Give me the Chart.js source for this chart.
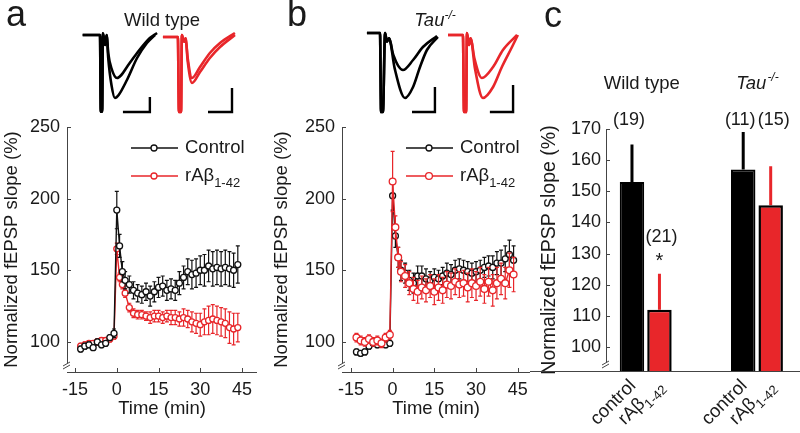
<!DOCTYPE html>
<html>
<head>
<meta charset="utf-8">
<script src="https://cdn.jsdelivr.net/npm/chart.js@4.4.1/dist/chart.umd.min.js"></script>
<style>
  html, body { margin: 0; background: #fff; }
  #fig { position: relative; width: 800px; height: 433px; overflow: hidden;
         font-family: 'Liberation Sans', Arial, sans-serif; color: #1a1a1a; }
  #fig canvas { position: absolute; }
  .letter { position: absolute; font-size: 36px; line-height: 36px; }
  .trace-title { position: absolute; width: 200px; text-align: center; font-size: 18.5px; line-height: 20px; }
  .trace-title sup { font-size: 12px; vertical-align: 7px; line-height: 0; }
</style>
</head>
<body>
<div id="fig">
  <canvas id="ltpA" width="270" height="433" style="left:0;top:0"></canvas>
  <canvas id="ltpB" width="270" height="433" style="left:270px;top:0"></canvas>
  <canvas id="bars" width="270" height="433" style="left:530px;top:0"></canvas>
  <canvas id="trWtCtrl" width="80" height="92" style="left:80px;top:25px"></canvas>
  <canvas id="trWtAbeta" width="80" height="92" style="left:160px;top:25px"></canvas>
  <canvas id="trTauCtrl" width="80" height="92" style="left:364px;top:25px"></canvas>
  <canvas id="trTauAbeta" width="80" height="92" style="left:444px;top:25px"></canvas>
  <div class="letter" style="left:6px;top:-4px">a</div>
  <div class="letter" style="left:287px;top:-4px">b</div>
  <div class="letter" style="left:544px;top:-3px">c</div>
  <div class="trace-title" style="left:62px;top:10px">Wild type</div>
  <div class="trace-title" style="left:335px;top:10px"><i>Tau</i><sup><i>-/-</i></sup></div>
</div>
<script>
// fEPSP slope time courses (% of baseline), minutes relative to tetanus
const minutes = [-13, -11.5, -10, -8.5, -7, -5.5, -4, -2.5, -1, 0, 1, 2, 3, 4.5, 6, 7.5, 9, 10.5, 12, 13.5,
  15, 16.5, 18, 19.5, 21, 22.5, 24, 25.5, 27, 28.5, 30, 31.5, 33, 34.5, 36, 37.5, 39, 40.5, 42, 43.5];

const wtControl = [95, 97, 98, 96, 100, 98, 99, 103, 106, 192, 167, 149, 143, 140, 136, 134, 133, 135, 132, 135,
  138, 139, 136, 137, 136, 141, 145, 149, 147, 148, 150, 150, 153, 151, 152, 151, 152, 151, 150, 154];
const wtControlSem = [2, 2, 2, 2, 2, 2, 2, 2, 3, 13, 8, 7, 6, 6, 6, 6, 6, 6, 7, 7,
  7, 7, 7, 7, 7, 8, 8, 9, 10, 10, 10, 11, 11, 12, 12, 12, 12, 12, 12, 13];
const wtAbeta = [97, 98, 99, 99, 100, 101, 101, 102, 104, 165, 145, 140, 134, 124, 120, 119, 119, 118, 117, 118,
  118, 117, 118, 117, 117, 116, 117, 116, 114, 113, 112, 114, 115, 116, 115, 114, 113, 110, 109, 110];
const wtAbetaSem = [2, 2, 2, 2, 2, 2, 2, 2, 2, 4, 3, 3, 3, 3, 3, 3, 3, 3, 4, 4,
  4, 4, 4, 5, 5, 5, 6, 6, 7, 7, 8, 9, 10, 10, 10, 10, 10, 11, 11, 10];

const tauControl = [93, 92, 93, 97, 99, 98, 99, 98, 99, 202, 174, 159, 150, 148, 143, 141, 146, 146, 144, 143,
  145, 144, 146, 148, 147, 150, 151, 150, 149, 148, 149, 150, 152, 153, 152, 155, 155, 158, 161, 157];
const tauControlSem = [2, 2, 2, 2, 2, 2, 2, 2, 2, 10, 8, 7, 7, 7, 7, 7, 7, 7, 7, 6,
  6, 6, 6, 7, 7, 7, 7, 7, 7, 7, 7, 7, 7, 7, 8, 8, 9, 9, 10, 10];
const tauAbeta = [103, 101, 100, 102, 100, 101, 99, 103, 105, 212, 180, 159, 149, 146, 141, 137, 135, 138, 136, 139,
  135, 138, 136, 140, 139, 142, 140, 141, 138, 141, 139, 142, 137, 142, 136, 141, 144, 141, 150, 147];
const tauAbetaSem = [3, 3, 3, 3, 3, 3, 3, 3, 3, 21, 8, 7, 7, 8, 8, 8, 8, 8, 8, 8,
  9, 9, 9, 9, 9, 9, 9, 9, 10, 10, 10, 10, 10, 10, 11, 11, 11, 11, 12, 12];

const seriesNames = ['Control', 'rAβ'];
const seriesSubs = ['', '1-42'];
const timeTicks = [-15, 0, 15, 30, 45];
const slopeTicks = [100, 150, 200, 250];

// panel c: mean fEPSP slope 40-45 min after tetanus
const genotypes = ['Wild type', 'Tau'];
const genotypeSup = ['', '-/-'];
const conditions = ['control', 'rAβ'];
const conditionSubs = ['', '1-42'];
const controlMean = [153, 157];
const controlSem = [12, 12];
const controlN = [19, 11];
const abetaMean = [112, 145.5];
const abetaSem = [11.5, 12.5];
const abetaN = [21, 15];
const abetaSig = ['*', ''];
const barTicks = [100, 110, 120, 130, 140, 150, 160, 170];

// example sweeps (ms, mV): baseline and post-tetanus, plus 10 ms scale bar
const wtCtrlSweeps = [
  [[1, 0], [7.5, 0], [7.8, -2.3], [8.3, -2.3], [8.6, 0.05], [9.4, -0.3], [10, 0], [10.6, -0.55], [11.8, -1.0], [13.9, -1.29], [15.5, -1.2], [17.6, -0.96], [21.4, -0.54], [26.2, -0.09], [28.9, 0.06]],
  [[1, 0], [7.5, 0], [7.8, -2.3], [8.3, -2.3], [8.6, 0.05], [9.4, -0.3], [10, 0], [10.6, -0.7], [11.8, -1.5], [13.1, -1.89], [14.5, -1.8], [17.6, -1.35], [21.4, -0.69], [25.1, -0.24], [28.1, 0]]
];
const wtCtrlBar = [[16.1, -2.31], [26.2, -2.31], [26.2, -1.86]];
const wtAbetaSweeps = [
  [[1.1, -0.06], [6.7, -0.06], [7.1, -2.31], [7.9, -2.31], [8.2, 0], [9, -0.2], [9.6, -0.1], [10.4, -0.7], [12, -1.29], [15, -0.96], [18.7, -0.54], [22.5, -0.24], [28.1, 0.06]],
  [[1.1, -0.06], [6.7, -0.06], [7.1, -2.31], [7.9, -2.31], [8.2, 0], [9, -0.2], [9.6, -0.1], [10.4, -0.8], [12, -1.44], [15, -1.11], [18.7, -0.69], [22.5, -0.36], [28.1, 0]]
];
const wtAbetaBar = [[18, -2.31], [27, -2.31], [27, -1.59]];
const tauCtrlSweeps = [
  [[1.1, 0.06], [6, 0.06], [6.4, -2.31], [7.1, -2.31], [7.9, 0.06], [8.6, -0.2], [9.4, -0.1], [11, -0.6], [14.6, -1.05], [18.4, -0.75], [22.1, -0.36], [27.4, -0.03]],
  [[1.1, 0.06], [6, 0.06], [6.4, -2.31], [7.1, -2.31], [7.9, 0.06], [8.6, -0.2], [9.4, -0.1], [11.5, -1.0], [15.4, -1.89], [18.4, -1.56], [21, -0.96], [23.6, -0.45], [27.7, -0.06]]
];
const tauCtrlBar = [[18, -2.31], [26.6, -2.31], [26.6, -1.56]];
const tauAbetaSweeps = [
  [[1.5, 0], [7.1, 0], [7.5, -2.31], [8.3, -2.31], [8.6, 0.06], [9.4, -0.3], [10, -0.1], [11.4, -0.7], [14.2, -1.29], [18.4, -0.96], [22.1, -0.45], [27.4, 0]],
  [[1.5, 0], [7.1, 0], [7.5, -2.31], [8.3, -2.31], [8.6, 0.06], [9.4, -0.3], [10, -0.1], [11.6, -1.0], [14.6, -1.89], [18.4, -1.56], [21.7, -0.96], [25.5, -0.36], [27.7, 0]]
];
const tauAbetaBar = [[17.2, -2.31], [25.9, -2.31], [25.9, -1.5]];

const RED = '#e8262a';
const INK = '#111';
const FONT = "'Liberation Sans', Arial, sans-serif";

Chart.defaults.font.family = FONT;
Chart.defaults.color = '#1a1a1a';
Chart.defaults.animation = false;
Chart.defaults.plugins.legend.display = false;
Chart.defaults.plugins.tooltip.enabled = false;

// text with a lowered subscript part, e.g. rAβ1-42
function drawSubText(ctx, text, sub, x, y, size, style) {
  const pre = style ? style + ' ' : '';
  ctx.font = `${pre}${size}px ${FONT}`;
  ctx.fillText(text, x, y);
  if (!sub) return;
  const w = ctx.measureText(text).width;
  ctx.font = `${pre}${Math.round(size * 0.7)}px ${FONT}`;
  ctx.fillText(sub, x + w, y + size * 0.38);
}

function subTextWidth(ctx, text, sub, size) {
  ctx.font = `${size}px ${FONT}`;
  let w = ctx.measureText(text).width;
  if (sub) {
    ctx.font = `${Math.round(size * 0.7)}px ${FONT}`;
    w += ctx.measureText(sub).width;
  }
  return w;
}

// error bars drawn just under their own dataset
const errorBars = {
  id: 'errorBars',
  beforeDatasetDraw(chart, args) {
    const ds = chart.data.datasets[args.index];
    if (!ds.errors) return;
    const {ctx} = chart;
    const y = chart.scales.y;
    ctx.save();
    ctx.strokeStyle = ds.errorColor || ds.borderColor;
    ctx.lineWidth = ds.errorWidth || 1.2;
    ctx.beginPath();
    args.meta.data.forEach((el, i) => {
      const v = ds.data[i].y, e = ds.errors[i];
      const top = y.getPixelForValue(v + e);
      if (ds.errorUpOnly) {
        ctx.moveTo(el.x, y.getPixelForValue(v));
        ctx.lineTo(el.x, top);
        return;
      }
      const bot = y.getPixelForValue(v - e);
      ctx.moveTo(el.x, top); ctx.lineTo(el.x, bot);
      ctx.moveTo(el.x - 2, top); ctx.lineTo(el.x + 2, top);
      ctx.moveTo(el.x - 2, bot); ctx.lineTo(el.x + 2, bot);
    });
    ctx.stroke();
    ctx.restore();
  }
};

// MATLAB-like axes: inward ticks, y axis broken just above the x axis
const brokenAxes = {
  id: 'brokenAxes',
  afterDraw(chart, args, opts) {
    const {ctx, chartArea: a} = chart;
    const {x, y} = chart.scales;
    ctx.save();
    ctx.strokeStyle = '#444';
    ctx.lineWidth = 1;
    ctx.beginPath();
    const xb = Math.round(a.bottom) + 0.5;
    ctx.moveTo(opts.xFrom != null ? opts.xFrom : a.left, xb);
    ctx.lineTo(a.right, xb);
    const yl = Math.round(a.left) + 0.5;
    ctx.moveTo(yl, a.top);
    ctx.lineTo(yl, a.bottom - 9);
    ctx.moveTo(a.left - 4, a.bottom - 6); ctx.lineTo(a.left + 3, a.bottom - 10);
    ctx.moveTo(a.left - 4, a.bottom - 3); ctx.lineTo(a.left + 3, a.bottom - 7);
    y.ticks.forEach(t => {
      const p = Math.round(y.getPixelForValue(t.value)) + 0.5;
      ctx.moveTo(a.left, p); ctx.lineTo(a.left + 4, p);
    });
    if (opts.xTicks) {
      x.ticks.forEach(t => {
        const p = Math.round(x.getPixelForValue(t.value)) + 0.5;
        ctx.moveTo(p, a.bottom); ctx.lineTo(p, a.bottom - 4);
      });
    }
    ctx.stroke();
    ctx.restore();
  }
};

// legend: line + open circle sample, label with subscript
const ltpLegend = {
  id: 'ltpLegend',
  afterDraw(chart) {
    const {ctx, chartArea: a} = chart;
    ctx.save();
    chart.data.datasets.forEach((ds, i) => {
      const yy = a.top + 21 + i * 28;
      ctx.strokeStyle = ds.borderColor;
      ctx.lineWidth = 1.5;
      ctx.beginPath();
      ctx.moveTo(a.left + 64, yy); ctx.lineTo(a.left + 111, yy);
      ctx.stroke();
      ctx.beginPath();
      ctx.arc(a.left + 87, yy, ds.pointRadius, 0, Math.PI * 2);
      ctx.fillStyle = '#fff';
      ctx.fill();
      ctx.lineWidth = ds.pointBorderWidth;
      ctx.stroke();
      ctx.fillStyle = '#1a1a1a';
      ctx.textBaseline = 'middle';
      ctx.textAlign = 'left';
      drawSubText(ctx, seriesNames[i], seriesSubs[i], a.left + 118, yy, 18.5);
    });
    ctx.restore();
  }
};

function timeSeries(label, values, sem, color, radius, order) {
  return {
    label,
    data: minutes.map((t, i) => ({x: t, y: values[i]})),
    errors: sem,
    borderColor: color,
    borderWidth: 1.4,
    pointRadius: radius,
    pointBorderWidth: 1.3,
    pointBackgroundColor: '#fff',
    pointBorderColor: color,
    order
  };
}

function makeTimeChart(canvasId, datasets, axisWidth, rightPad, xMin, xMax) {
  new Chart(document.getElementById(canvasId), {
    type: 'line',
    data: {datasets},
    options: {
      responsive: false,
      events: [],
      layout: {padding: {top: 127, right: rightPad, left: 0, bottom: 0}},
      plugins: {brokenAxes: {xTicks: true}},
      scales: {
        x: {
          type: 'linear',
          min: xMin,
          max: xMax,
          afterBuildTicks: s => { s.ticks = timeTicks.map(v => ({value: v})); },
          afterFit: s => { s.height = 61; },
          grid: {display: false, drawTicks: false},
          border: {display: false},
          ticks: {font: {size: 18}, padding: 7, maxRotation: 0},
          title: {display: true, text: 'Time (min)', font: {size: 18.5}, padding: {top: 0, bottom: 13}}
        },
        y: {
          min: 79,
          max: 250,
          afterBuildTicks: s => { s.ticks = slopeTicks.map(v => ({value: v})); },
          afterFit: s => { s.width = axisWidth; },
          grid: {display: false, drawTicks: false},
          border: {display: false},
          ticks: {font: {size: 18}, padding: 7},
          title: {display: true, text: 'Normalized fEPSP slope (%)', font: {size: 18.5}, padding: {top: 1, bottom: 0}}
        }
      }
    },
    plugins: [errorBars, brokenAxes, ltpLegend]
  });
}

makeTimeChart('ltpA', [
  timeSeries(seriesNames[0], wtControl, wtControlSem, INK, 3, 0),
  timeSeries(seriesNames[1], wtAbeta, wtAbetaSem, RED, 3, 0)
], 67, 13, -17.9, 50.4);

makeTimeChart('ltpB', [
  timeSeries(seriesNames[0], tauControl, tauControlSem, INK, 3, 0),
  timeSeries(seriesNames[1], tauAbeta, tauAbetaSem, RED, 3.4, -1)
], 72, 10, -18.2, 49.4);

// panel c annotations: genotype headings, n, significance, slanted condition labels
const barNotes = {
  id: 'barNotes',
  afterDraw(chart) {
    const {ctx, chartArea: a} = chart;
    const {x, y} = chart.scales;
    ctx.save();
    ctx.fillStyle = '#1a1a1a';
    ctx.textBaseline = 'alphabetic';
    genotypes.forEach((g, i) => {
      const cx = x.getPixelForValue(i + 1) - (genotypeSup[i] ? 0 : 4);
      const italic = genotypeSup[i] ? 'italic' : '';
      ctx.font = `${italic} 18.5px ${FONT}`;
      const w1 = ctx.measureText(g).width;
      ctx.font = `${italic} 12px ${FONT}`;
      const w2 = genotypeSup[i] ? ctx.measureText(genotypeSup[i]).width : 0;
      const left = cx - (w1 + w2) / 2;
      ctx.textAlign = 'left';
      ctx.font = `${italic} 18.5px ${FONT}`;
      ctx.fillText(g, left, 89);
      if (genotypeSup[i]) {
        ctx.font = `${italic} 12px ${FONT}`;
        ctx.fillText(genotypeSup[i], left + w1 + 1, 81);
      }
    });
    ctx.textAlign = 'center';
    ctx.textBaseline = 'middle';
    chart.data.datasets.forEach((ds, di) => {
      const meta = chart.getDatasetMeta(di);
      meta.data.forEach((el, i) => {
        const topPx = y.getPixelForValue(ds.data[i].y + ds.errors[i]);
        ctx.font = `18px ${FONT}`;
        if (ds.sig && ds.sig[i]) {
          ctx.fillText('(' + ds.n[i] + ')', el.x + 2, topPx - 37);
          ctx.font = `20px ${FONT}`;
          ctx.fillText(ds.sig[i], el.x, topPx - 12);
        } else {
          ctx.fillText('(' + ds.n[i] + ')', el.x + (di === 0 ? -3 : 3), a.top - 9);
        }
        // slanted condition label under each bar
        ctx.save();
        ctx.translate(el.x + 1, a.bottom + 12);
        ctx.rotate(-Math.PI / 4);
        ctx.textAlign = 'left';
        const w = subTextWidth(ctx, conditions[di], conditionSubs[di], 18.5);
        drawSubText(ctx, conditions[di], conditionSubs[di], -w, 0, 18.5);
        ctx.restore();
      });
    });
    ctx.restore();
  }
};

new Chart(document.getElementById('bars'), {
  type: 'bar',
  data: {
    datasets: [
      {
        label: conditions[0],
        data: genotypes.map((g, i) => ({x: i + 1, y: controlMean[i]})),
        errors: controlSem, n: controlN, errorUpOnly: true, errorWidth: 3, errorColor: '#000',
        backgroundColor: '#000', borderColor: '#000', borderWidth: 2, borderSkipped: false,
        categoryPercentage: 0.494, barPercentage: 0.89
      },
      {
        label: conditions[1],
        data: genotypes.map((g, i) => ({x: i + 1, y: abetaMean[i]})),
        errors: abetaSem, n: abetaN, sig: abetaSig, errorUpOnly: true, errorWidth: 3, errorColor: RED,
        backgroundColor: RED, borderColor: '#000', borderWidth: 2.5, borderSkipped: false,
        categoryPercentage: 0.494, barPercentage: 0.89
      }
    ]
  },
  options: {
    responsive: false,
    events: [],
    layout: {padding: {top: 129, right: 0, left: 0, bottom: 0}},
    plugins: {brokenAxes: {xFrom: 0, xTicks: false}},
    scales: {
      x: {
        type: 'linear',
        offset: false,
        min: 0.643,
        max: 2.387,
        afterBuildTicks: s => { s.ticks = genotypes.map((g, i) => ({value: i + 1})); },
        afterFit: s => { s.height = 62; },
        grid: {display: false, drawTicks: false},
        border: {display: false},
        ticks: {display: false}
      },
      y: {
        min: 92.3,
        max: 170,
        afterBuildTicks: s => { s.ticks = barTicks.map(v => ({value: v})); },
        afterFit: s => { s.width = 76; },
        grid: {display: false, drawTicks: false},
        border: {display: false},
        ticks: {font: {size: 18}, padding: 5},
        title: {display: true, text: 'Normalized fEPSP slope (%)', font: {size: 19.5}, padding: {top: 8, bottom: 0}}
      }
    }
  },
  plugins: [errorBars, brokenAxes, barNotes]
});

// example field potential sweeps with scale bars
function makeTrace(canvasId, sweeps, scaleBar, color) {
  const toXY = pts => pts.map(([x, y]) => ({x, y}));
  new Chart(document.getElementById(canvasId), {
    type: 'line',
    data: {
      datasets: [
        ...sweeps.map(s => ({
          data: toXY(s), borderColor: color, borderWidth: 2.6, pointRadius: 0,
          cubicInterpolationMode: 'monotone', clip: false
        })),
        {data: toXY(scaleBar), borderColor: '#000', borderWidth: 2.4, pointRadius: 0, tension: 0, clip: false}
      ]
    },
    options: {
      responsive: false,
      events: [],
      layout: {padding: 0},
      scales: {
        x: {type: 'linear', display: false, min: 0, max: 30},
        y: {display: false, min: -2.46, max: 0.3}
      }
    }
  });
}

makeTrace('trWtCtrl', wtCtrlSweeps, wtCtrlBar, '#000');
makeTrace('trWtAbeta', wtAbetaSweeps, wtAbetaBar, RED);
makeTrace('trTauCtrl', tauCtrlSweeps, tauCtrlBar, '#000');
makeTrace('trTauAbeta', tauAbetaSweeps, tauAbetaBar, RED);
</script>
</body>
</html>
